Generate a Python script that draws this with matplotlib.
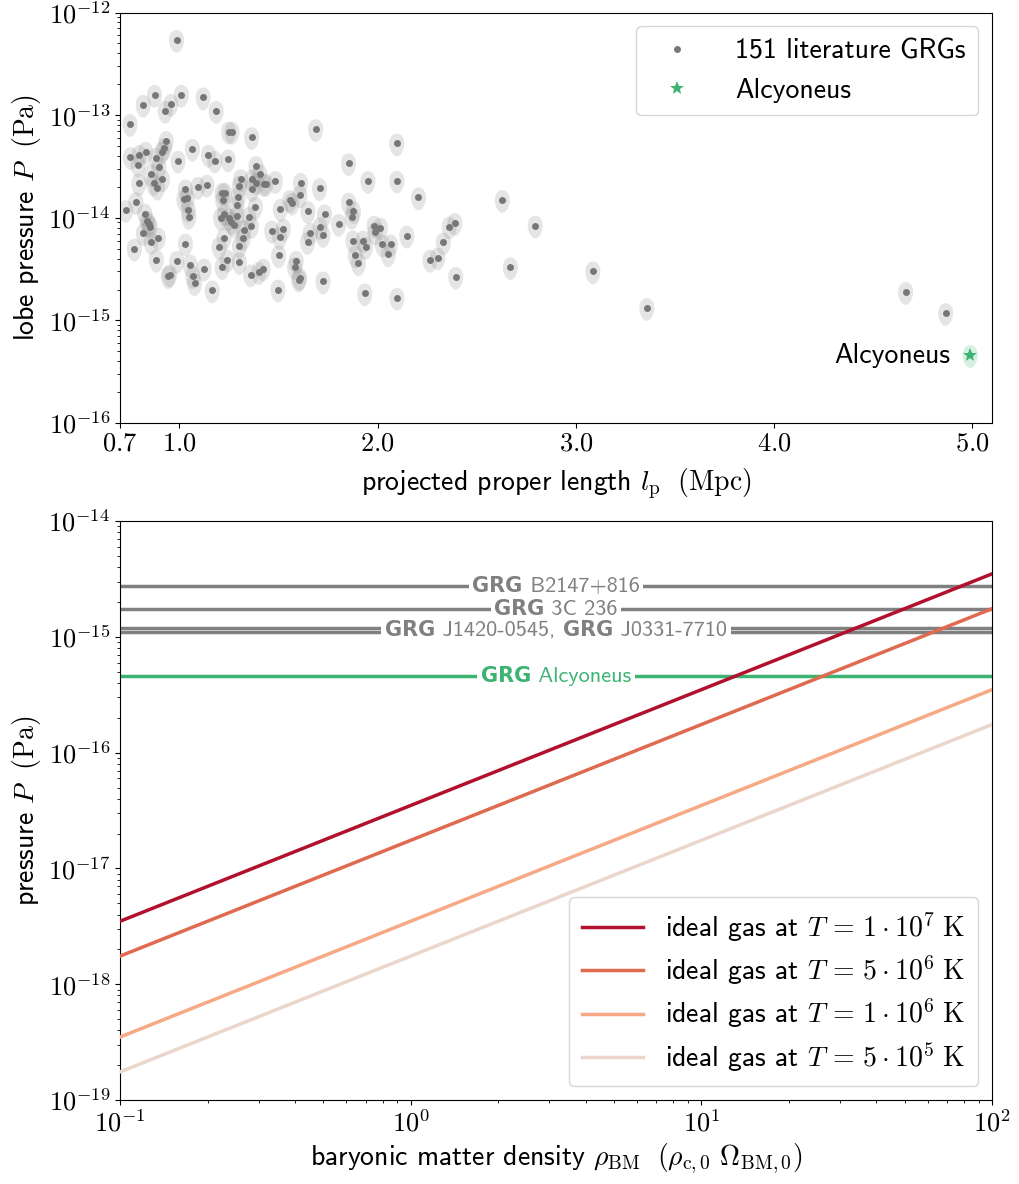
import numpy as np
import matplotlib
matplotlib.use('Agg')
import matplotlib.pyplot as plt
from matplotlib.ticker import NullLocator, FixedLocator, FixedFormatter, FuncFormatter
from matplotlib.offsetbox import TextArea, HPacker, AnnotationBbox

plt.rcParams['font.family'] = ['cmss10', 'DejaVu Sans']
plt.rcParams['mathtext.fontset'] = 'cm'
plt.rcParams['axes.formatter.use_mathtext'] = True

# literature GRGs: projected proper length (Mpc) and lobe pressure (Pa)
lp_mpc = [0.985, 0.874, 1.009, 0.817, 0.956, 0.928, 1.119, 1.185, 0.750, 1.248,
          1.265, 1.364, 0.933, 0.924, 0.911, 0.829, 0.797, 0.752, 0.883, 1.065,
          0.993, 1.146, 1.178, 1.245, 0.790, 0.896, 1.386,
          0.854, 0.914, 0.869, 0.888, 0.795, 1.405, 1.366, 1.309, 1.388, 1.425,
          1.366, 1.302, 1.092, 1.138, 1.030, 1.215, 1.228, 1.218, 1.296, 1.022,
          1.039, 1.289, 1.044, 1.383, 0.780, 0.729, 0.825, 0.837, 0.845, 0.852,
          1.227, 1.207, 1.248, 1.262, 1.274, 1.291, 1.349, 1.363, 1.324, 1.047,
          0.818, 0.857, 0.893, 1.321, 1.302, 1.225, 1.200, 1.030, 0.772, 0.883,
          0.986, 1.242, 1.302, 1.054, 1.215, 1.124, 0.950, 0.943, 1.067, 1.076,
          1.359, 1.400, 1.422, 1.165,
          1.687, 2.097, 1.853, 1.951, 2.097, 1.484, 1.436, 1.611, 1.608, 1.707,
          1.556, 1.568, 1.853, 1.878, 1.870, 1.509, 1.648, 1.732, 1.803, 1.709,
          1.660, 1.724, 1.646, 1.524, 1.465, 1.505, 1.982, 2.014, 1.987, 2.023,
          2.065, 2.053, 1.875, 1.927, 1.939, 1.887, 1.903, 2.147, 1.500, 1.589,
          1.581, 1.606, 1.601, 1.724, 1.497, 1.935, 2.097,
          2.206, 2.629, 2.361, 2.390, 2.331, 2.303, 2.264, 2.394, 2.795, 2.670,
          3.086, 3.358, 4.664, 4.866]
p_pa = [5.4e-13, 1.58e-13, 1.58e-13, 1.26e-13, 1.29e-13, 1.10e-13, 1.49e-13, 1.10e-13, 8.2e-14, 6.9e-14,
        6.9e-14, 6.1e-14, 5.6e-14, 4.8e-14, 4.4e-14, 4.4e-14, 4.1e-14, 3.9e-14, 3.85e-14, 4.7e-14,
        3.6e-14, 4.1e-14, 3.6e-14, 3.7e-14, 3.3e-14, 3.1e-14, 3.2e-14,
        2.67e-14, 2.37e-14, 2.16e-14, 1.96e-14, 2.16e-14, 2.67e-14, 2.37e-14, 2.38e-14, 2.19e-14, 2.13e-14,
        1.9e-14, 2.05e-14, 2.0e-14, 2.1e-14, 1.89e-14, 1.75e-14, 1.75e-14, 1.49e-14, 1.6e-14, 1.51e-14,
        1.55e-14, 1.33e-14, 1.19e-14, 1.28e-14, 1.42e-14, 1.19e-14, 1.10e-14, 9.3e-15, 8.7e-15, 8.2e-15,
        1.10e-14, 1.0e-14, 9.9e-15, 9.1e-15, 8.5e-15, 1.04e-14, 1.02e-14, 8.3e-15, 7.6e-15, 1.02e-14,
        7.05e-15, 5.8e-15, 6.4e-15, 6.3e-15, 5.3e-15, 6.4e-15, 5.2e-15, 5.6e-15, 5.0e-15, 3.9e-15,
        3.8e-15, 3.9e-15, 3.7e-15, 3.5e-15, 3.3e-15, 3.2e-15, 2.8e-15, 2.7e-15, 2.7e-15, 2.3e-15,
        2.8e-15, 2.96e-15, 3.2e-15, 1.96e-15,
        7.3e-14, 5.3e-14, 3.4e-14, 2.28e-14, 2.3e-14, 2.28e-14, 2.14e-14, 2.19e-14, 1.65e-14, 1.94e-14,
        1.49e-14, 1.40e-14, 1.41e-14, 1.16e-14, 1.02e-14, 1.22e-14, 1.16e-14, 1.08e-14, 8.7e-15, 8.1e-15,
        7.1e-15, 6.8e-15, 5.8e-15, 7.8e-15, 7.5e-15, 6.5e-15, 8.4e-15, 8.0e-15, 7.2e-15, 5.5e-15,
        5.5e-15, 4.4e-15, 6.0e-15, 6.0e-15, 5.2e-15, 4.3e-15, 3.6e-15, 6.7e-15, 4.3e-15, 3.8e-15,
        3.3e-15, 2.6e-15, 2.5e-15, 2.4e-15, 2.0e-15, 1.83e-15, 1.66e-15,
        1.58e-14, 1.49e-14, 8.2e-15, 8.9e-15, 5.75e-15, 4.1e-15, 3.9e-15, 2.66e-15, 8.4e-15, 3.3e-15,
        3.0e-15, 1.32e-15, 1.89e-15, 1.18e-15]

alc_lp = 4.99
alc_p = 4.6e-16

# error sizes
lp_err = 0.038
p_rel_err = 0.25

# bottom panel
density = [0.1, 100.0]
gas_labels = [r'ideal gas at $T\,=\,1 \cdot 10^{7}\ \mathrm{K}$',
              r'ideal gas at $T\,=\,5 \cdot 10^{6}\ \mathrm{K}$',
              r'ideal gas at $T\,=\,1 \cdot 10^{6}\ \mathrm{K}$',
              r'ideal gas at $T\,=\,5 \cdot 10^{5}\ \mathrm{K}$']
gas_pressure = [[3.5e-18, 3.5e-15],
                [1.75e-18, 1.75e-15],
                [3.5e-19, 3.5e-16],
                [1.75e-19, 1.75e-16]]
gas_colors = ['#b2112e', '#e06a50', '#f6a984', '#ead6ca']

grg_names = ['B2147+816', '3C 236', 'J1420-0545', 'J0331-7710']
grg_pressure = [2.75e-15, 1.73e-15, 1.2e-15, 1.11e-15]

GREEN = '#3cb371'
GREY = '#808080'
FS = 20
TS = 19
LS = 16


def pow10(v, pos):
    return r'$10^{%d}$' % int(round(np.log10(v)))


def grg_label(ax, y, names, color):
    kids = []
    for i, n in enumerate(names):
        kids.append(TextArea('GRG', textprops=dict(family='DejaVu Sans', fontweight='bold', color=color, size=LS - 1)))
        tail = ' ' + n + (', ' if i < len(names) - 1 else '')
        kids.append(TextArea(tail, textprops=dict(color=color, size=LS)))
    box = HPacker(children=kids, align='baseline', pad=0, sep=0)
    ab = AnnotationBbox(box, (0.5, y), xycoords=ax.get_yaxis_transform(), frameon=True,
                        box_alignment=(0.5, 0.5), pad=0.25,
                        bboxprops=dict(fc='white', ec='none'), zorder=5)
    ax.add_artist(ab)


fig = plt.figure(figsize=(10.19, 11.84), dpi=100)
ax1 = fig.add_axes([0.1178, 0.6427, 0.8557, 0.3467])
ax2 = fig.add_axes([0.1178, 0.0709, 0.8557, 0.4890])

# top panel
t = np.linspace(0, 2 * np.pi, 60)
for x0, y0 in zip(lp_mpc, p_pa):
    ax1.fill(x0 + lp_err * np.cos(t), y0 * (1 + p_rel_err * np.sin(t)),
             color='grey', alpha=0.2, lw=0, zorder=1)
ax1.fill(alc_lp + lp_err * np.cos(t), alc_p * (1 + p_rel_err * np.sin(t)),
         color=GREEN, alpha=0.2, lw=0, zorder=1)
ax1.plot(lp_mpc, p_pa, 'o', color='#777777', ms=5, mew=0, zorder=3, label='151 literature GRGs')
ax1.plot([alc_lp], [alc_p], '*', color=GREEN, ms=10, mew=0, zorder=3, label='Alcyoneus')
ax1.text(4.89, alc_p, 'Alcyoneus', ha='right', va='center', fontsize=FS)

ax1.set_yscale('log')
ax1.set_xlim(0.7, 5.1)
ax1.set_ylim(1e-16, 1e-12)
ax1.yaxis.set_major_formatter(FuncFormatter(pow10))
ax1.xaxis.set_major_locator(FixedLocator([0.7, 1, 2, 3, 4, 5]))
ax1.xaxis.set_major_formatter(FixedFormatter(['$0.7$', '$1.0$', '$2.0$', '$3.0$', '$4.0$', '$5.0$']))
ax1.xaxis.set_minor_locator(NullLocator())
ax1.set_xlabel(r'projected proper length $l_\mathrm{p}\ \ (\mathrm{Mpc})$', fontsize=FS, labelpad=8)
ax1.set_ylabel(r'lobe pressure $P\ \ (\mathrm{Pa})$', fontsize=FS)
ax1.tick_params(labelsize=TS)
ax1.legend(loc='upper right', fontsize=FS, borderpad=0.45, handletextpad=1.1)

# bottom panel
for i, n in enumerate(grg_names):
    ax2.axhline(grg_pressure[i], color=GREY, lw=2.5, zorder=2)
ax2.axhline(alc_p, color=GREEN, lw=2.5, zorder=2)
grg_label(ax2, grg_pressure[0], [grg_names[0]], GREY)
grg_label(ax2, grg_pressure[1], [grg_names[1]], GREY)
grg_label(ax2, np.sqrt(grg_pressure[2] * grg_pressure[3]), grg_names[2:], GREY)
grg_label(ax2, alc_p, ['Alcyoneus'], GREEN)

for lab, pr, c in zip(gas_labels, gas_pressure, gas_colors):
    ax2.plot(density, pr, color=c, lw=2.5, label=lab, zorder=3)

ax2.set_xscale('log')
ax2.set_yscale('log')
ax2.set_xlim(0.1, 100)
ax2.set_ylim(1e-19, 1e-14)
ax2.xaxis.set_major_formatter(FuncFormatter(pow10))
ax2.yaxis.set_major_formatter(FuncFormatter(pow10))
ax2.set_xlabel(r'baryonic matter density $\rho_\mathrm{BM}\ \ (\rho_\mathrm{c,0}\ \Omega_\mathrm{BM,0})$', fontsize=FS)
ax2.set_ylabel(r'pressure $P\ \ (\mathrm{Pa})$', fontsize=FS)
ax2.tick_params(labelsize=TS)
ax2.legend(loc='lower right', fontsize=FS, borderpad=0.45, handlelength=2.2, labelspacing=0.35)

fig.savefig('out.png', dpi=100)
